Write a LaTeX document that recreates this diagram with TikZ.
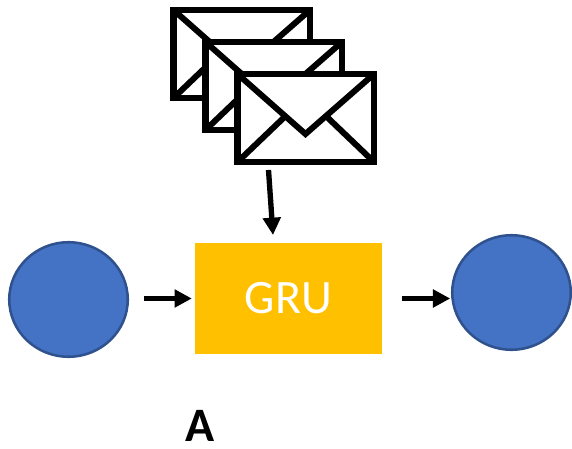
\documentclass[tikz,border=0pt]{standalone}
\usepackage{xcolor}
\usepackage{fontspec}
\setmainfont{Carlito}
\usepackage{tikz}
\usetikzlibrary{arrows.meta,shapes.geometric}

\definecolor{blobblue}{HTML}{4472C4}
\definecolor{blobedge}{HTML}{2F528F}
\definecolor{gruyellow}{HTML}{FFC000}

\tikzset{
  mail/.style={draw=black,fill=white,line width=4.9pt,rectangle,outer sep=0pt,inner sep=0pt,minimum width=102.4pt,minimum height=66pt},
  mailfold/.style={draw=black,line width=4.5pt,line join=miter},
  blob/.style={ellipse,draw=blobedge,fill=blobblue,line width=1.9pt,outer sep=0pt,inner sep=0pt,minimum width=88.9pt,minimum height=85.9pt},
  grubox/.style={rectangle,fill=gruyellow,text=white,font=\fontsize{36}{36}\selectfont,outer sep=0pt,inner sep=0pt,minimum width=140.5pt,minimum height=83.2pt},
  flow/.style={-{Triangle[length=13pt,width=13pt]},line width=4pt,black},
  tag/.style={font=\bfseries\fontsize{36}{36}\selectfont,inner sep=0pt}
}

% one envelope: name, position
\newcommand{\mailicon}[2]{
\node[mail] (#1) at (#2) {};
\draw[mailfold] (#1.north west) -- ([shift={(68,60)}]#1.north west) -- (#1.north east);
\draw[mailfold] (#1.south west) -- ([shift={(46.5,43.5)}]#1.north west);
\draw[mailfold] (#1.south east) -- ([shift={(90,43.5)}]#1.north west);
}

\begin{document}
\begin{tikzpicture}[x=0.75pt,y=-0.75pt]
\useasboundingbox (0,0) rectangle (572,449);

\mailicon{mailA}{241.75,54}
\mailicon{mailB}{273.75,86}
\mailicon{mailC}{305.75,118}

\node[blob] (inL) at (68.5,299.5) {};
\node[grubox] (gru) at (288.5,298.5) {GRU};
\node[blob] (outR) at (511.5,292.5) {};
\node[tag] (lbl) at (200,426) {A};

\coordinate (mailtail) at (268.5,170);
\coordinate (gruhead) at (273,235);

\draw[flow] (mailtail) -- (gruhead);
\draw[flow,shorten <=12pt,shorten >=2.25pt] (inL.east |- gru.west) -- (gru.west);
\draw[flow,shorten <=15pt,shorten >=1.5pt] (gru.east) -- (gru.east -| outR.west);

\end{tikzpicture}
\end{document}
